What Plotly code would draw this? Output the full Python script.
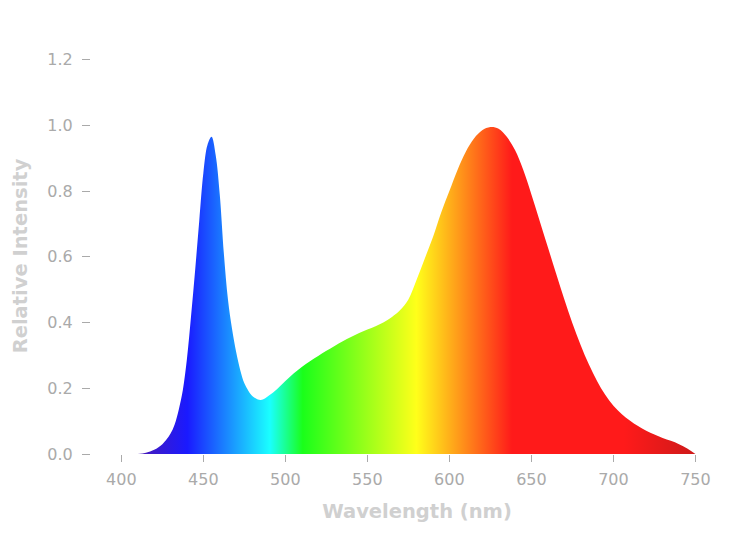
import plotly.graph_objects as go

# spectrum (nm, relative intensity)
wavelength = [410, 415, 420, 425, 427.5, 430, 432.5, 435, 437.5, 440, 442.5, 445, 447.5,
              450, 452.5, 455, 457.5, 460, 462.5, 465, 467.5, 470, 472.5, 475, 477.5, 480,
              485, 490, 495, 500, 505, 510, 515, 520, 525, 530, 535, 540, 545, 550, 555,
              560, 565, 570, 575, 580, 585, 590, 595, 600, 605, 610, 615, 620, 625, 630,
              635, 640, 645, 650, 655, 660, 665, 670, 675, 680, 685, 690, 695, 700, 705,
              710, 715, 720, 725, 730, 735, 740, 745, 750]
intensity = [0.0, 0.004, 0.013, 0.03, 0.044, 0.062, 0.09, 0.135, 0.195, 0.29, 0.42, 0.56,
             0.71, 0.855, 0.94, 0.965, 0.91, 0.79, 0.61, 0.47, 0.38, 0.31, 0.255, 0.215,
             0.192, 0.176, 0.164, 0.178, 0.198, 0.222, 0.245, 0.265, 0.282, 0.298, 0.314,
             0.329, 0.343, 0.356, 0.368, 0.379, 0.389, 0.401, 0.417, 0.438, 0.47, 0.53,
             0.595, 0.66, 0.735, 0.8, 0.865, 0.92, 0.96, 0.985, 0.995, 0.99, 0.965, 0.925,
             0.865, 0.79, 0.71, 0.63, 0.55, 0.472, 0.398, 0.332, 0.273, 0.222, 0.18, 0.147,
             0.122, 0.102, 0.085, 0.071, 0.059, 0.049, 0.04, 0.03, 0.017, 0.0]

# colour of light along the wavelength axis
color_nm = [400, 440, 490, 510, 579, 637, 705, 750]
color_hex = ['#5a1a9c', '#1a1aff', '#1affff', '#1aff1a', '#ffff1a', '#ff1a1a', '#ff1a1a', '#cc1a1a']

x_ticks = [400, 450, 500, 550, 600, 650, 700, 750]
y_ticks = [0.0, 0.2, 0.4, 0.6, 0.8, 1.0, 1.2]

lo, hi = color_nm[0], color_nm[-1]
scale = [[(w - lo) / (hi - lo), c] for w, c in zip(color_nm, color_hex)]

fig = go.Figure()
fig.add_trace(go.Scatter(
    x=wavelength, y=intensity, mode='lines', fill='tozeroy',
    line=dict(width=0, shape='spline', smoothing=1.0),
    fillgradient=dict(type='horizontal', start=lo, stop=hi, colorscale=scale),
    hoverinfo='skip', showlegend=False))

tick_font = dict(family='DejaVu Sans', size=16, color='#aaaaaa')
title_font = dict(family='DejaVu Sans', size=19.5, color='#d0d0d0', weight='bold')

fig.update_layout(
    width=753, height=533,
    margin=dict(l=80, r=18, t=50, b=87),
    plot_bgcolor='white', paper_bgcolor='white',
    xaxis=dict(range=[381.5, 779], tickvals=x_ticks, ticks='outside', ticklen=7,
               tickcolor='#aaaaaa', tickfont=tick_font, showgrid=False, zeroline=False,
               showline=False, ticklabelstandoff=4,
               title=dict(text='Wavelength (nm)', font=title_font, standoff=16)),
    yaxis=dict(range=[0, 1.205], tickvals=y_ticks, tickformat='.1f', ticks='outside',
               ticklen=8, tickcolor='#aaaaaa', tickfont=tick_font, showgrid=False,
               zeroline=False, showline=False, ticklabelstandoff=6,
               title=dict(text='Relative Intensity', font=title_font, standoff=14)),
)

fig.write_html("out.html")
